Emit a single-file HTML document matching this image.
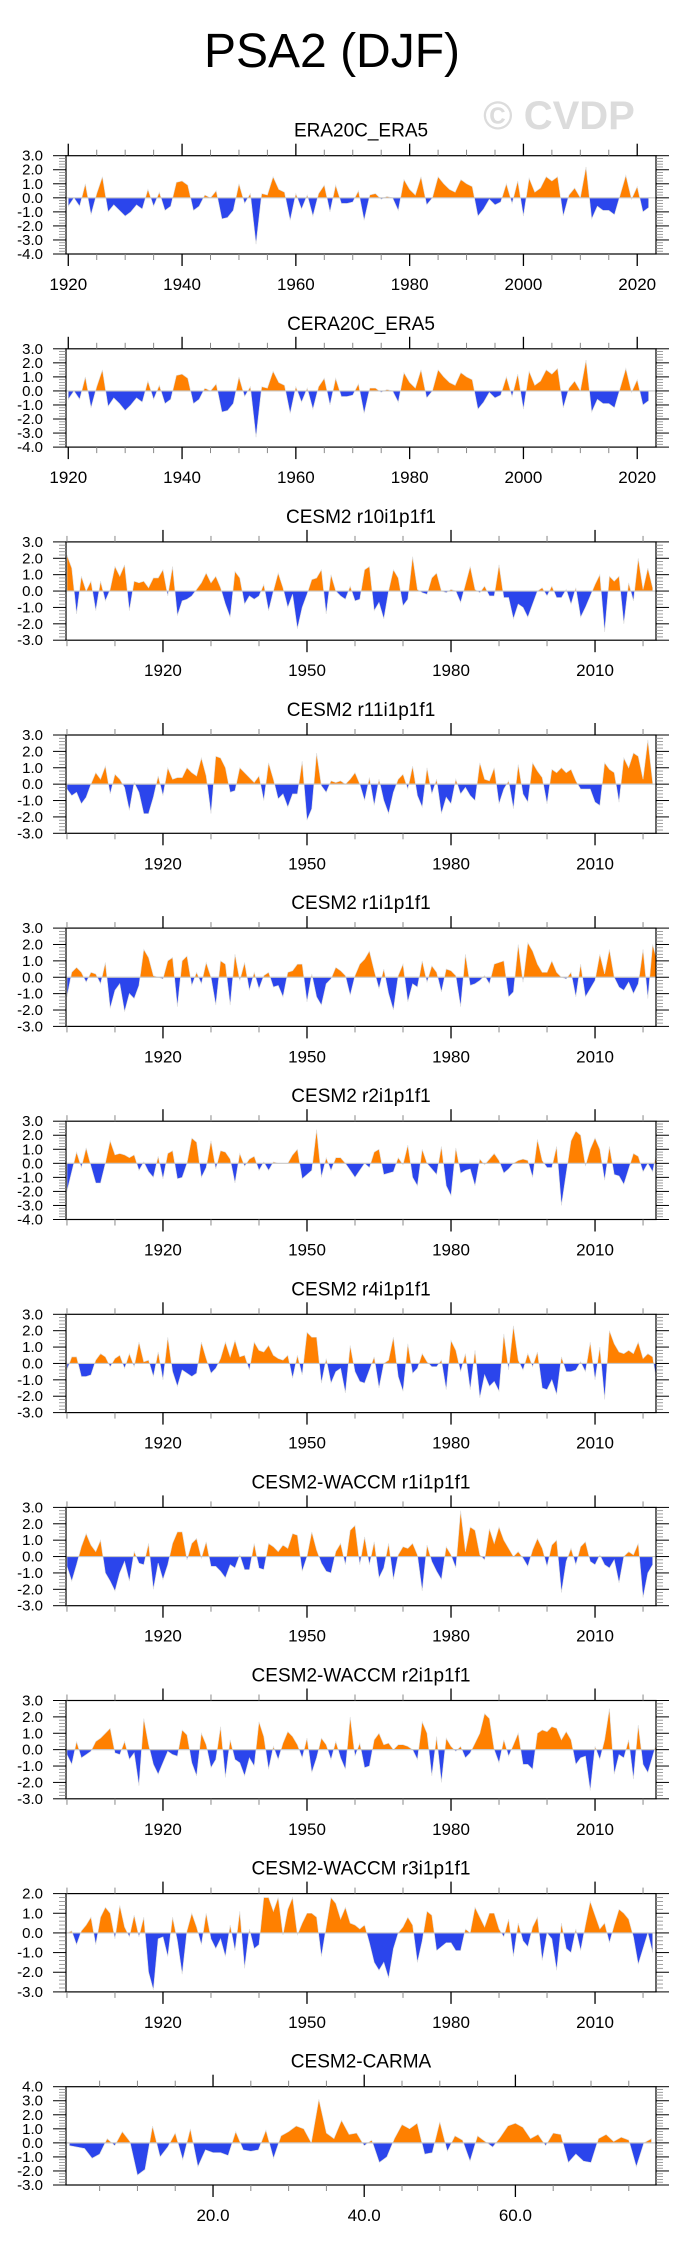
<!DOCTYPE html>
<html><head><meta charset="utf-8"><style>
html,body{margin:0;padding:0;background:#fff;}
svg{display:block;font-family:"Liberation Sans",Arial,sans-serif;}
</style></head><body>
<svg id="fig" width="684" height="2251" viewBox="0 0 684 2251" xmlns="http://www.w3.org/2000/svg">
<text x="332" y="67" font-size="48" text-anchor="middle" fill="#000">PSA2 (DJF)</text>
<text x="559" y="129" font-size="40" font-weight="bold" text-anchor="middle" fill="#dcdcdc">© CVDP</text>
</svg>
<script>
const panelTitles=["ERA20C_ERA5","CERA20C_ERA5","CESM2 r10i1p1f1","CESM2 r11i1p1f1","CESM2 r1i1p1f1","CESM2 r2i1p1f1","CESM2 r4i1p1f1","CESM2-WACCM r1i1p1f1","CESM2-WACCM r2i1p1f1","CESM2-WACCM r3i1p1f1","CESM2-CARMA"];
const yMaxs=[3,3,3,3,3,3,3,3,3,2,4];
const yMins=[-4,-4,-3,-3,-3,-4,-3,-3,-3,-3,-3];
const xStarts=[1920,1920,1900,1900,1900,1900,1900,1900,1900,1900,1];
const xTickLabelsYears=[1920,1940,1960,1980,2000,2020];
const xTickLabelsCesm=[1920,1950,1980,2010];
const xTickLabelsCarma=[20,40,60];
const sEra=[-0.6,0.0,-0.6,1.0,-1.2,0.3,1.5,-1.0,-0.5,-0.9,-1.3,-1.0,-0.5,-0.8,0.6,-0.6,0.4,-0.9,-0.6,1.1,1.2,0.9,-0.9,-0.6,0.2,0.0,0.5,-1.5,-1.4,-0.9,1.0,-0.4,0.3,-3.3,0.3,0.2,1.5,0.6,0.4,-1.6,0.3,-0.8,0.2,-1.3,0.3,0.9,-1.0,0.9,-0.4,-0.4,-0.3,0.5,-1.6,0.2,0.3,-0.1,0.1,0.0,-0.9,1.3,0.6,0.2,1.5,-0.5,0.0,1.5,1.0,0.6,0.4,1.3,1.0,0.8,-1.3,-0.8,-0.1,-0.5,-0.3,1.0,-0.4,1.2,-1.3,1.4,0.4,0.7,1.5,1.2,1.5,-1.3,0.2,0.7,0.0,2.2,-1.5,-0.6,-0.9,-0.9,-1.2,0.2,1.6,-0.1,0.8,-1.0,-0.7];
const sCera=[-0.6,0.0,-0.6,1.0,-1.2,0.3,1.5,-1.1,-0.5,-0.9,-1.4,-1.0,-0.5,-0.8,0.7,-0.6,0.4,-0.9,-0.6,1.1,1.2,0.9,-0.9,-0.6,0.2,0.0,0.5,-1.5,-1.4,-0.9,1.0,-0.4,0.3,-3.3,0.3,0.2,1.4,0.6,0.4,-1.6,0.3,-0.8,0.2,-1.3,0.3,0.9,-1.0,0.9,-0.4,-0.4,-0.3,0.5,-1.6,0.2,0.2,-0.1,0.1,0.0,-0.8,1.3,0.6,0.2,1.5,-0.5,0.0,1.5,1.0,0.6,0.4,1.3,1.0,0.8,-1.3,-0.8,-0.1,-0.5,-0.3,1.0,-0.4,1.2,-1.3,1.4,0.4,0.7,1.5,1.2,1.6,-1.2,0.2,0.7,0.0,2.2,-1.5,-0.6,-0.9,-0.9,-1.2,0.2,1.6,-0.1,0.8,-1.0,-0.7];
const sR10=[2.2,1.4,-1.4,0.9,0.0,0.6,-1.2,0.6,-0.6,0.1,1.5,0.9,1.6,-1.2,0.6,0.5,0.6,0.2,0.8,0.8,1.3,-0.3,1.5,-1.5,-0.6,-0.5,-0.3,0.1,0.5,1.1,0.5,0.9,0.2,-0.8,-1.6,1.2,0.8,-0.8,-0.3,-0.5,-0.3,0.4,-1.2,0.0,1.1,0.2,-1.0,-0.2,-2.3,-1.0,-0.2,0.7,0.8,1.3,-1.4,1.0,0.0,-0.3,-0.5,0.3,-0.6,-0.5,1.3,1.5,-1.2,-0.7,-1.7,0.0,1.3,0.8,-0.9,-0.5,2.1,0.1,-0.1,-0.2,0.8,1.1,0.0,-0.1,0.1,0.0,-0.7,0.4,1.5,0.1,-0.1,0.3,-0.3,-0.3,1.6,-0.4,-0.4,-1.7,-0.8,-1.0,-1.6,-0.8,0.0,0.2,-0.3,0.3,-0.4,-0.4,0.1,-0.8,0.2,-1.6,-1.0,-0.3,0.4,1.0,-2.5,0.9,0.6,0.9,-2.0,0.5,-0.6,2.0,0.1,1.4,0.2];
const sR11=[-0.3,-0.7,-0.5,-1.2,-0.8,0.0,0.7,0.3,1.1,-0.6,0.6,0.3,-0.2,-1.6,0.1,-0.5,-1.8,-1.8,-0.8,0.5,-0.7,1.0,0.3,0.4,0.4,1.0,0.7,0.5,1.6,0.5,-1.8,1.7,1.6,1.0,-0.5,-0.4,1.0,0.7,0.4,0.1,0.5,-1.0,1.3,0.3,-0.9,-0.6,-1.4,-0.6,-0.6,1.4,-2.2,-1.5,1.9,-0.1,-0.5,0.2,0.1,0.2,0.0,0.3,0.7,0.0,-1.0,0.4,-1.3,0.3,-1.0,-1.8,-0.5,0.3,0.6,-0.3,1.1,-0.7,-1.4,1.0,-0.6,0.3,-1.8,-0.8,-1.2,0.3,-0.6,-0.2,-0.7,-1.0,1.3,0.3,0.2,1.0,-1.2,-0.3,0.2,-1.5,1.2,-0.6,-1.1,1.3,0.8,0.4,-1.2,0.9,0.7,1.0,0.7,0.9,0.2,-0.3,-0.3,-0.3,-1.1,-1.3,1.3,0.9,0.7,-1.1,1.6,1.0,1.9,1.7,0.3,2.7,0.1];
const sR1=[-1.2,0.3,0.6,0.3,-0.3,0.3,0.2,-0.4,0.9,-1.9,-0.8,-0.4,-2.1,-1.0,-1.3,-0.5,1.7,1.2,0.1,0.0,-0.1,1.0,1.2,-1.8,1.0,1.3,-0.5,0.3,-0.4,0.9,0.0,-1.7,1.0,0.8,-1.7,1.4,-0.2,0.9,-0.8,0.3,-0.7,0.1,0.3,-0.6,-0.5,-1.2,0.3,0.4,0.8,0.8,-1.5,0.2,-1.2,-1.7,-0.4,-0.1,0.6,0.4,0.1,-1.1,0.1,0.8,1.1,1.6,0.4,-0.7,0.5,-1.0,-2.0,0.1,0.8,-1.5,-0.4,-0.6,1.0,-0.3,0.7,0.3,-0.9,0.5,0.4,0.1,-1.8,1.4,-0.5,-0.4,-0.2,0.1,-0.4,0.8,0.9,1.0,-1.2,-0.9,2.0,-0.3,2.1,1.6,0.8,0.3,0.3,1.0,0.3,0.0,-0.1,0.3,-1.2,0.8,-1.2,-0.7,-0.2,1.4,0.2,1.7,0.0,-0.6,-0.8,-0.3,-1.0,-0.4,1.7,-1.3,2.0,0.9,-1.6];
const sR2=[-2.0,-0.6,0.8,-0.3,1.1,-0.2,-1.4,-1.4,0.0,1.6,0.6,0.7,0.6,0.4,0.6,-0.5,0.1,-0.6,-1.0,0.5,-1.1,0.7,0.9,-1.1,-1.0,0.0,1.8,1.5,-1.0,-0.3,1.6,-0.4,0.9,0.8,0.3,-1.4,0.7,-0.2,0.3,0.5,-0.5,0.1,-0.5,0.1,0.0,0.0,0.0,0.6,1.0,-1.1,-0.8,-0.5,2.4,-1.0,0.4,-0.5,0.4,0.4,0.0,-0.5,-1.0,-0.5,0.0,-0.3,0.8,1.0,-0.8,-0.7,-0.6,0.4,-0.1,1.3,-1.0,-1.6,1.0,0.0,-0.4,-0.8,1.2,-1.6,-2.3,1.1,-0.7,-0.5,-0.4,-1.6,0.3,-0.1,0.3,0.7,0.2,-0.7,-0.4,0.0,0.2,0.3,0.2,-1.0,1.7,0.2,-0.3,-0.3,1.2,-3.0,-0.7,1.6,2.3,2.0,-0.2,1.0,1.8,1.0,-1.2,1.2,-0.8,-0.9,-1.5,-0.4,0.7,0.5,-0.6,0.0,-0.6,1.1];
const sR4=[-0.4,0.4,0.4,-0.8,-0.8,-0.7,0.2,0.6,0.4,-0.2,0.3,0.5,-0.3,0.6,-0.2,1.3,0.1,0.2,-0.8,0.7,-1.0,1.6,-0.5,-1.4,-0.4,-0.6,-0.8,-0.6,1.3,0.3,-0.6,-0.3,0.3,1.3,0.4,1.4,0.4,0.5,-0.4,1.3,0.8,0.7,1.1,0.5,0.3,0.2,0.5,-0.9,0.5,-0.7,1.9,1.6,1.6,-1.2,0.3,-1.2,-0.5,-0.3,-1.8,1.1,-0.5,-1.1,-1.2,-0.4,0.4,-1.5,0.0,0.2,1.6,-0.8,-1.7,1.2,-0.6,-0.3,0.6,0.1,-0.2,-0.2,0.2,-1.6,1.4,0.8,-0.5,0.6,-1.6,0.8,-2.1,-0.7,-1.4,-1.1,-1.7,1.8,-0.4,2.3,0.2,-0.4,0.6,-0.2,0.7,-1.5,-1.6,-1.0,-1.9,0.4,-0.5,-0.5,-0.4,0.1,-0.5,1.3,-1.0,1.0,-2.2,2.0,1.2,0.7,0.6,0.8,0.6,1.3,0.3,0.6,0.4,-1.4];
const sW1=[-0.6,-1.5,-0.5,0.6,1.4,0.7,0.3,1.0,-1.0,-1.5,-2.1,-1.0,-0.3,-1.5,0.3,-0.4,-0.5,0.8,-2.0,-0.4,-1.4,-0.5,0.8,1.5,1.5,-0.2,0.8,1.1,-0.1,0.9,-0.6,-0.6,-0.9,-1.3,-0.5,-0.7,0.1,-0.8,-0.8,0.8,-0.7,-0.8,0.8,0.6,0.3,0.7,0.5,1.4,1.3,-0.9,0.0,1.5,0.4,-0.4,-0.9,-1.0,0.3,0.8,-0.5,1.6,1.9,-0.5,1.2,-0.5,0.9,-1.3,-0.7,0.8,-1.4,0.1,0.6,0.5,0.8,0.1,-2.1,0.7,-0.3,-0.9,-1.4,0.6,0.1,-0.7,2.8,0.3,1.8,1.6,0.1,-0.2,1.7,0.8,1.8,1.0,0.5,0.0,0.3,-0.1,-0.6,0.4,1.1,0.5,-0.6,0.7,1.0,-2.2,-0.3,0.5,-0.5,0.6,0.9,-0.3,-0.5,0.1,-0.5,-0.7,-0.2,-1.6,0.0,0.3,0.1,0.8,-2.5,-1.0,-0.5];
const sW2=[-0.3,-0.9,0.5,-0.5,-0.3,-0.1,0.5,0.7,1.0,1.3,-0.2,-0.3,0.5,-0.6,-0.2,-2.2,1.9,0.3,-0.9,-1.5,-0.8,-0.1,-0.3,-0.4,1.2,0.9,-0.8,-1.6,1.0,0.3,-1.1,-0.6,1.4,-1.7,0.6,-0.6,-0.8,-1.6,-0.5,-1.0,1.7,0.8,-1.2,0.2,-0.6,0.4,1.1,0.8,0.3,-0.5,0.7,-1.4,-0.5,0.7,0.3,-0.6,0.5,-0.5,-1.2,2.0,-0.4,0.4,-1.1,-1.0,0.6,1.0,0.3,0.4,0.0,0.3,0.3,0.2,0.0,-0.6,1.7,1.0,-1.6,0.8,-2.0,0.7,0.2,-0.1,0.2,-0.5,-0.2,0.4,1.0,2.2,1.9,0.0,-0.8,0.6,-0.4,0.3,1.0,-0.9,-0.9,-1.2,1.0,1.2,1.1,1.4,1.3,0.6,1.1,0.6,-0.9,-0.5,-0.4,-2.5,0.2,-0.6,0.6,2.5,-1.5,-0.3,-0.5,0.6,-1.8,1.5,-0.9,-1.4,-0.4,0.6];
const sW3=[0.0,0.1,-0.6,0.1,0.4,0.8,-0.6,0.8,1.3,1.0,-0.3,1.4,0.3,-0.2,0.9,-0.2,0.8,-2.0,-2.9,-0.3,-0.2,-1.2,0.8,-0.4,-2.1,0.1,1.0,0.3,-0.6,1.0,-0.3,-0.8,-0.3,-1.2,0.4,-0.9,1.1,-1.8,0.2,-0.8,-0.6,1.8,1.8,1.1,1.8,-0.1,1.2,1.8,-0.1,0.5,1.0,1.0,0.8,-1.2,0.3,1.8,1.5,0.7,1.3,0.5,0.4,0.2,0.4,-0.5,-1.5,-1.9,-1.5,-2.3,-0.8,0.0,0.3,0.8,0.4,-1.5,-0.4,1.1,0.9,-0.9,-0.7,-0.5,-0.5,-0.9,-0.9,0.2,0.0,1.3,0.8,0.3,1.0,1.0,0.2,-0.2,0.7,-1.2,0.5,-0.4,-0.7,0.3,0.8,-1.4,0.0,-0.3,-1.9,0.5,-0.8,-1.0,0.2,-0.9,0.4,1.6,0.9,0.2,0.5,-0.5,0.4,1.2,1.0,0.7,-0.2,-1.6,-0.8,0.0,-1.0];
const sCarma=[-0.2,-0.3,-0.4,-1.1,-0.8,0.3,-0.2,0.8,0.1,-2.3,-1.9,1.2,-1.0,-0.3,0.7,-1.2,1.0,-1.7,-0.5,-0.7,-0.7,-0.9,0.8,-0.5,-0.6,-0.5,0.9,-1.1,0.5,0.8,1.2,1.0,0.0,3.1,0.7,0.3,1.6,0.6,0.7,-0.2,0.2,-1.4,-1.0,0.3,1.3,1.0,1.4,-0.8,-0.7,1.5,-0.6,0.5,0.2,-1.3,0.5,0.1,-0.3,0.4,1.2,1.4,1.1,0.3,0.6,-0.2,0.7,0.6,-1.4,-0.8,-1.3,-1.4,0.3,0.6,0.1,0.4,0.2,-1.7,0.0,0.3];
const allSeries=[sEra,sCera,sR10,sR11,sR1,sR2,sR4,sW1,sW2,sW3,sCarma];

const NS="http://www.w3.org/2000/svg";
const svg=document.getElementById('fig');
const BOX_L=66,BOX_R=656,BOX_H=98.3,TOP0=155.7,STEP=193.1;
function mk(tag,attrs,parent){const e=document.createElementNS(NS,tag);for(const k in attrs)e.setAttribute(k,attrs[k]);(parent||svg).appendChild(e);return e;}
function domainFor(i){if(i<2)return[1919.6,2023.3];if(i<10)return[1899.8,2022.7];return[0.55,78.6];}

for(let i=0;i<11;i++){
  const top=TOP0+STEP*i,bot=top+BOX_H;
  const [d0,d1]=domainFor(i);
  const xs=v=>BOX_L+(v-d0)/(d1-d0)*(BOX_R-BOX_L);
  const ys=v=>top+(yMaxs[i]-v)/(yMaxs[i]-yMins[i])*BOX_H;
  const g=mk('g',{});
  
  
  const t=mk('text',{x:361,y:top-19,'font-size':19,'text-anchor':'middle',fill:'#000'},g);
  
  
  t.textContent=panelTitles[i];
  const z=ys(0);
  const defs=mk('defs',{},g);
  const cu=mk('clipPath',{id:'cu'+i},defs);mk('rect',{x:BOX_L,y:top,width:BOX_R-BOX_L,height:z-top},cu);
  const cd=mk('clipPath',{id:'cd'+i},defs);mk('rect',{x:BOX_L,y:z,width:BOX_R-BOX_L,height:bot-z},cd);
  const s=allSeries[i];
  let d='M'+xs(xStarts[i]).toFixed(2)+','+z.toFixed(2);
  s.forEach((v,k)=>{d+='L'+xs(xStarts[i]+k).toFixed(2)+','+ys(v).toFixed(2);});
  d+='L'+xs(xStarts[i]+s.length-1).toFixed(2)+','+z.toFixed(2)+'Z';
  const pu=mk('path',{d:d,fill:'#ff8000','clip-path':'url(#cu'+i+')',stroke:'#dddddd','stroke-width':0.6},g);
  
  
  const pd=mk('path',{d:d,fill:'#2b45ec','clip-path':'url(#cd'+i+')',stroke:'#dddddd','stroke-width':0.6},g);
  
  
  const zl=mk('line',{x1:BOX_L,x2:BOX_R,y1:z,y2:z,stroke:'#c8c8c8','stroke-width':1.2},g);
  
  
  const bx=mk('rect',{x:BOX_L,y:top,width:BOX_R-BOX_L,height:BOX_H,fill:'none',stroke:'#000','stroke-width':1.2},g);
  
  
  for(let v=yMins[i];v<=yMaxs[i]+1e-6;v+=0.2){
    const y=ys(v);const major=Math.abs(v-Math.round(v))<1e-6;
    const L=major?13:7;
    mk('line',{x1:BOX_L-L,x2:BOX_L,y1:y,y2:y,stroke:major?'#000':'#888','stroke-width':major?1:0.8},g);
    mk('line',{x1:BOX_R,x2:BOX_R+L,y1:y,y2:y,stroke:major?'#000':'#888','stroke-width':major?1:0.8},g);
  }
  for(let v=yMins[i];v<=yMaxs[i];v++){
    const lt=mk('text',{x:43,y:ys(v)+5,'font-size':15,'text-anchor':'end',fill:'#000'},g);
    
    
    lt.textContent=v.toFixed(1);
  }
  let majors,minStep,minStart,labFmt;
  if(i<2){majors=xTickLabelsYears;minStep=5;minStart=1920;labFmt=v=>String(v);}
  else if(i<10){majors=xTickLabelsCesm;minStep=10;minStart=1900;labFmt=v=>String(v);}
  else{majors=xTickLabelsCarma;minStep=5;minStart=5;labFmt=v=>v.toFixed(1);}
  for(let v=minStart;xs(v)<=BOX_R;v+=minStep){
    const x=xs(v);const major=majors.includes(v);const L=major?12:6;
    mk('line',{x1:x,x2:x,y1:bot,y2:bot+L,stroke:major?'#000':'#888','stroke-width':major?1.3:1},g);
    mk('line',{x1:x,x2:x,y1:top-L,y2:top,stroke:major?'#000':'#888','stroke-width':major?1.3:1},g);
  }
  majors.forEach(v=>{
    const lt=mk('text',{x:xs(v),y:bot+36,'font-size':17,'text-anchor':'middle',fill:'#000'},g);
    
    
    lt.textContent=labFmt(v);
  });
}
</script>
</body></html>
